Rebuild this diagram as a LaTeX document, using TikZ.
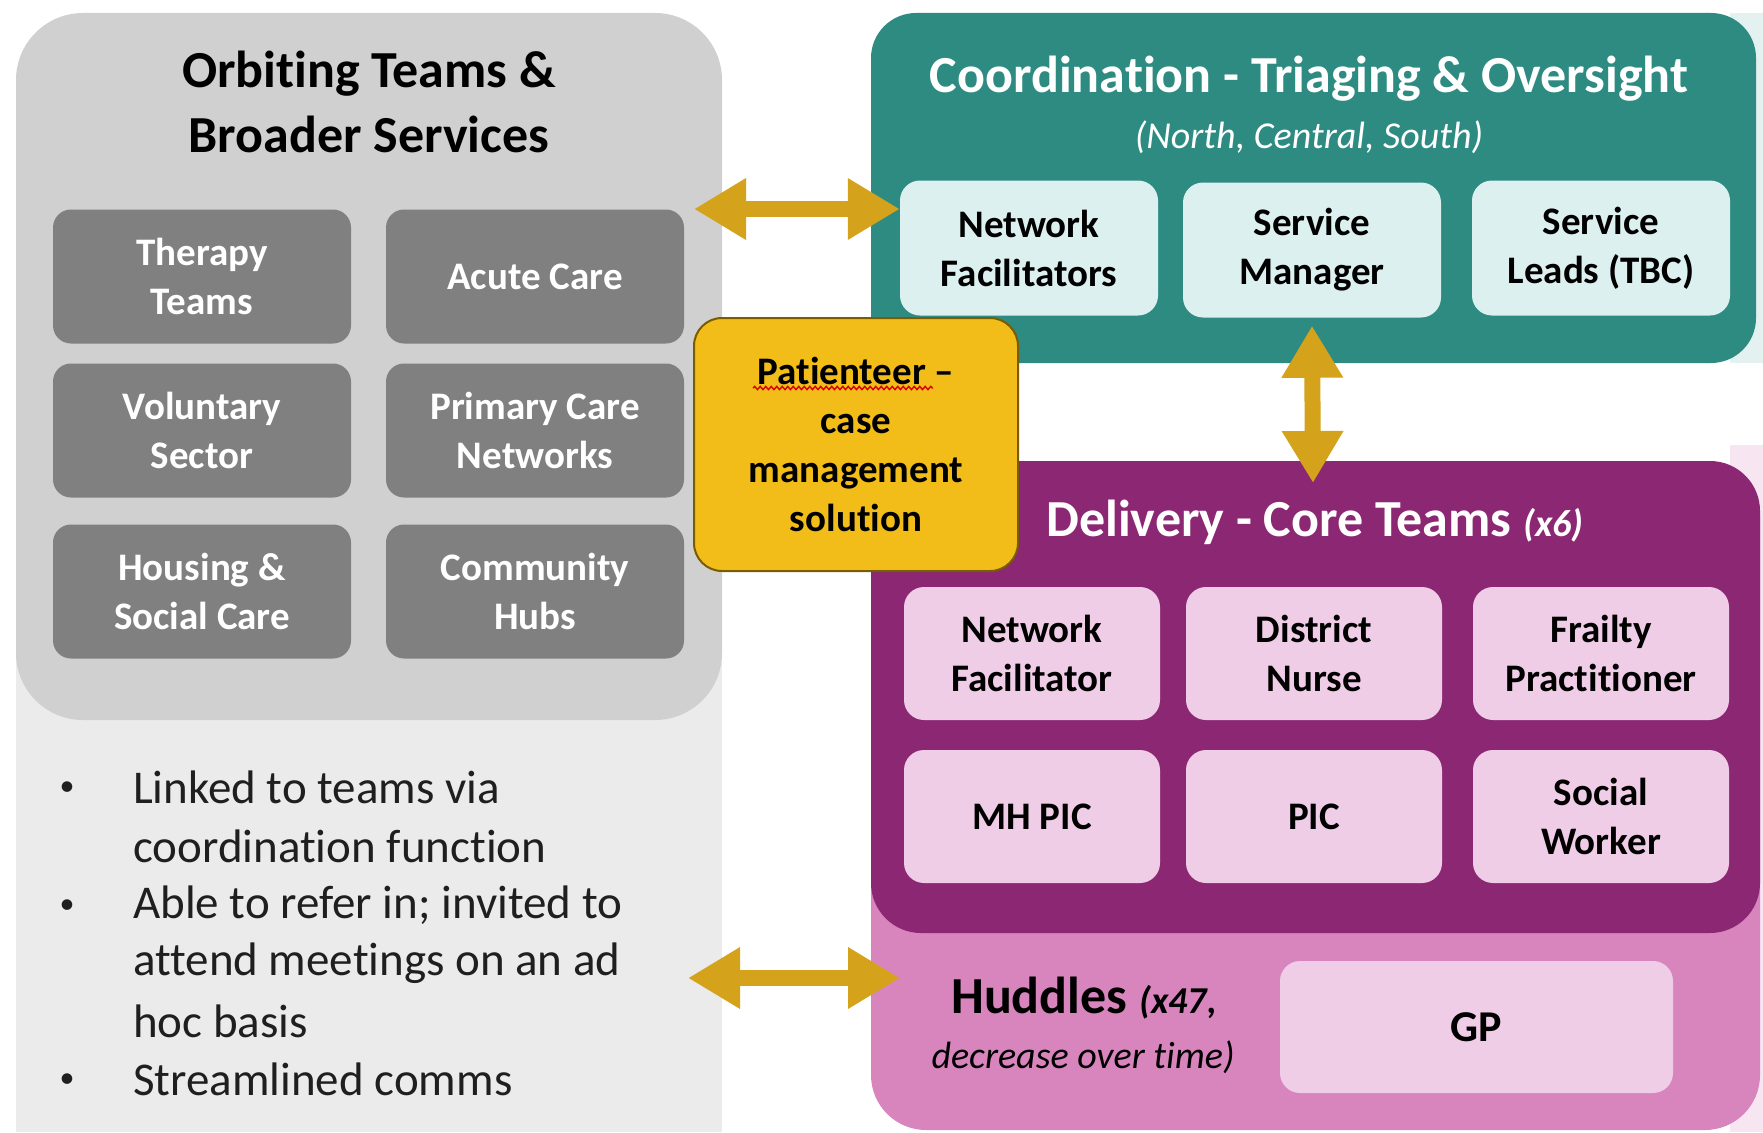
\documentclass[tikz,border=0pt]{standalone}
\usepackage{fontspec}
\setmainfont{Carlito}[Ligatures={TeX,NoCommon}]
\usetikzlibrary{arrows.meta,decorations.pathmorphing}
\definecolor{orbitdark}{HTML}{D0D0D0}
\definecolor{orbitlight}{HTML}{EBEBEB}
\definecolor{boxgray}{HTML}{808080}
\definecolor{tealpanel}{HTML}{2E8B82}
\definecolor{tealbox}{HTML}{DDF0F0}
\definecolor{paleteal}{HTML}{E3F2F1}
\definecolor{purplepanel}{HTML}{8C2873}
\definecolor{pinkpanel}{HTML}{D884BD}
\definecolor{pinkbox}{HTML}{F0CDE7}
\definecolor{palepink}{HTML}{F7E6F2}
\definecolor{goldarrow}{HTML}{D5A21B}
\definecolor{yellowbox}{HTML}{F2BD19}
\definecolor{yellowborder}{HTML}{7A5C00}
\definecolor{bodytext}{HTML}{1F1F1F}
\newcommand\fsTitle{\bfseries\fontsize{52}{65}\selectfont}
\newcommand\fsBox{\bfseries\fontsize{39}{49}\selectfont}
\newcommand\fsItal{\itshape\fontsize{38}{46}\selectfont}
\newcommand\fsList{\fontsize{47}{58.5}\selectfont}
\begin{document}
\begin{tikzpicture}[x=1pt,y=-1pt,
  panelbox/.style={inner sep=0, outer sep=0},
  graybox/.style={fill=boxgray, rounded corners=18, text=white, font=\fsBox, align=center,
    minimum width=298, minimum height=134, inner sep=0},
  tealsub/.style={fill=tealbox, rounded corners=20, text=black, font=\fsBox, align=center,
    minimum width=258, minimum height=135, inner sep=0},
  pinksub/.style={fill=pinkbox, rounded corners=20, text=black, font=\fsBox, align=center,
    minimum width=256, minimum height=133, inner sep=0},
  goldarr/.style={draw=goldarrow, line width=16,
    {Triangle[width=58pt,length=52pt]}-{Triangle[width=58pt,length=52pt]}},
  listline/.style={anchor=west, font=\fsList, text=bodytext, inner sep=0},
  bulletdot/.style={font=\fontsize{30}{36}\selectfont, text=bodytext, inner sep=0}
]
\useasboundingbox (0,0) rectangle (1763,1132);
\fill[white] (0,0) rectangle (1763,1132);

% pale strips at right edge
\fill[paleteal] (1730,13) rectangle (1763,363);
\fill[palepink] (1730,445) rectangle (1763,1132);

% left panel
\fill[orbitlight] (16,300) rectangle (722,1132);
\node[panelbox, fill=orbitdark, rounded corners=67, minimum width=706, minimum height=707]
  (orbit) at (369,366.5) {};
\node[font=\fsTitle, align=center, text=black] (orbittitle) at (369,102)
  {Orbiting Teams \&\\Broader Services};

\node[graybox] (therapy)   at (202,276.5) {Therapy\\Teams};
\node[graybox] (acute)     at (535,276.5) {Acute Care};
\node[graybox] (voluntary) at (202,430.5) {Voluntary\\Sector};
\node[graybox] (pcn)       at (535,430.5) {Primary Care\\Networks};
\node[graybox] (housing)   at (202,591.5) {Housing \&\\Social Care};
\node[graybox] (hubs)      at (535,591.5) {Community\\Hubs};

% bullet list
\node[listline] (l1) at (133,787)  {Linked to teams via};
\node[listline] (l2) at (133,846)  {coordination function};
\node[listline] (l3) at (133,905)  {Able to refer in; invited to};
\node[listline] (l4) at (133,963)  {attend meetings on an ad};
\node[listline] (l5) at (133,1021) {hoc basis};
\node[listline] (l6) at (133,1079) {Streamlined comms};
\node[bulletdot] (b1) at (67,789)  {•};
\node[bulletdot] (b2) at (67,907)  {•};
\node[bulletdot] (b3) at (67,1081) {•};

% coordination panel
\node[panelbox, fill=tealpanel, rounded corners=45, minimum width=885, minimum height=350]
  (coord) at (1313.5,188) {};
\node[font=\fsTitle, text=white] (coordtitle) at (1309,79) {Coordination - Triaging \& Oversight};
\node[font=\fsItal, text=white] (coordsub) at (1309,137) {(North, Central, South)};
\node[tealsub] (nf) at (1029,248) {Network\\Facilitators};
\node[tealsub] (sm) at (1312,250) {Service\\Manager};
\node[tealsub] (sl) at (1601,248) {Service\\Leads (TBC)};

% delivery / huddles panels
\node[panelbox, fill=pinkpanel, rounded corners=55, minimum width=889, minimum height=669]
  (huddle) at (1315.5,795.5) {};
\node[panelbox, fill=purplepanel, rounded corners=50, minimum width=889, minimum height=472]
  (delivery) at (1315.5,697) {};
\node[font=\fsTitle, text=white] (deltitle) at (1315,522) {Delivery - Core Teams {\fsItal (x6)}};
\node[pinksub] (dnf)  at (1032,653.5) {Network\\Facilitator};
\node[pinksub] (dn)   at (1314,653.5) {District\\Nurse};
\node[pinksub] (fp)   at (1601,653.5) {Frailty\\Practitioner};
\node[pinksub] (mh)   at (1032,816.5) {MH PIC};
\node[pinksub] (pic)  at (1314,816.5) {PIC};
\node[pinksub] (sw)   at (1601,816.5) {Social\\Worker};
\node[text=black, font=\fsTitle] (hud1) at (1084,998) {Huddles {\fsItal (x47,}};
\node[text=black, font=\fsItal] (hud2) at (1083,1057) {decrease over time)};
\node[pinksub, minimum width=393, minimum height=132, font=\bfseries\fontsize{44}{52}\selectfont]
  (gp) at (1476.5,1027) {GP};

% Patienteer box
\node[fill=yellowbox, draw=yellowborder, line width=2, rounded corners=28,
  minimum width=324, minimum height=253, inner sep=0, align=center, font=\fsBox, text=black]
  (pat) at (856,444.5) {Patienteer –\\case\\management\\solution};
\draw[red!85!black, line width=1.4, decorate,
  decoration={snake, amplitude=1.6, segment length=5.5}]
  (753,388) -- (933,388);

% arrows
\coordinate (a1l) at (694,209);
\draw[goldarr] (a1l) -- (a1l -| nf.west);
\coordinate (a2b) at (1313,483);
\draw[goldarr] ([yshift=-8]sm.south) -- (a2b);
\coordinate (a3l) at (688,978);
\coordinate (a3r) at (900,978);
\draw[goldarr] (a3l) -- (a3r);
\end{tikzpicture}
\end{document}
